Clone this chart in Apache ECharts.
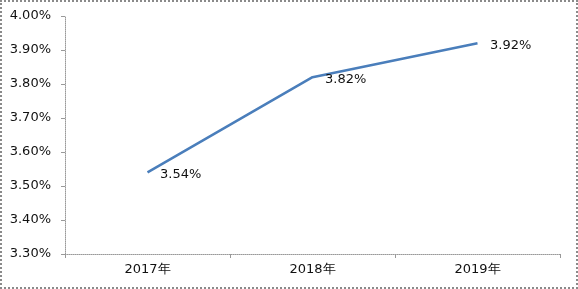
<!DOCTYPE html>
<html><head><meta charset="utf-8">
<script src="https://cdn.jsdelivr.net/npm/echarts@6/dist/echarts.min.js"></script>
<style>
html,body{margin:0;padding:0;background:#fff;}
#frame{position:absolute;left:0;top:0;width:578px;height:289px;box-sizing:border-box;border:2px dotted #8a8a8a;}
#c{position:absolute;left:0;top:0;width:578px;height:289px;}
</style></head>
<body><div id="frame"></div><div id="c"></div>
<script>
const categories = ['2017年', '2018年', '2019年'];
const values = [3.54, 3.82, 3.92];
const yMin = 3.3, yMax = 4.0, yStep = 0.1;

const chart = echarts.init(document.getElementById('c'), null, {renderer: 'canvas'});
const font = '"DejaVu Sans", Verdana, sans-serif';
chart.setOption({
  animation: false,
  grid: {left: 65, right: 18, top: 16, bottom: 35, containLabel: false},
  xAxis: {
    type: 'category', data: categories, boundaryGap: true,
    axisLine: {lineStyle: {color: '#999', type: 'dotted', width: 1}},
    axisTick: {show: true, length: 4, lineStyle: {color: '#999'}},
    axisLabel: {color: '#111', fontFamily: font, fontSize: 13, margin: 9}
  },
  yAxis: {
    type: 'value', min: yMin, max: yMax, interval: yStep,
    axisLine: {show: true, lineStyle: {color: '#999', type: 'dotted', width: 1}},
    axisTick: {show: true, length: 4, lineStyle: {color: '#999'}},
    splitLine: {show: false},
    axisLabel: {color: '#111', fontFamily: font, fontSize: 13, margin: 14,
      formatter: v => v.toFixed(2) + '%'}
  },
  series: [{
    type: 'line', data: values, symbol: 'circle', symbolSize: 1, showSymbol: true,
    itemStyle: {color: 'rgba(0,0,0,0)'},
    lineStyle: {color: '#4a7ebb', width: 2.5},
    label: {show: true, position: 'right', distance: 12, offset: [0, 2],
      color: '#111', fontFamily: font, fontSize: 13,
      formatter: p => p.value.toFixed(2) + '%'}
  }]
});
</script></body></html>
